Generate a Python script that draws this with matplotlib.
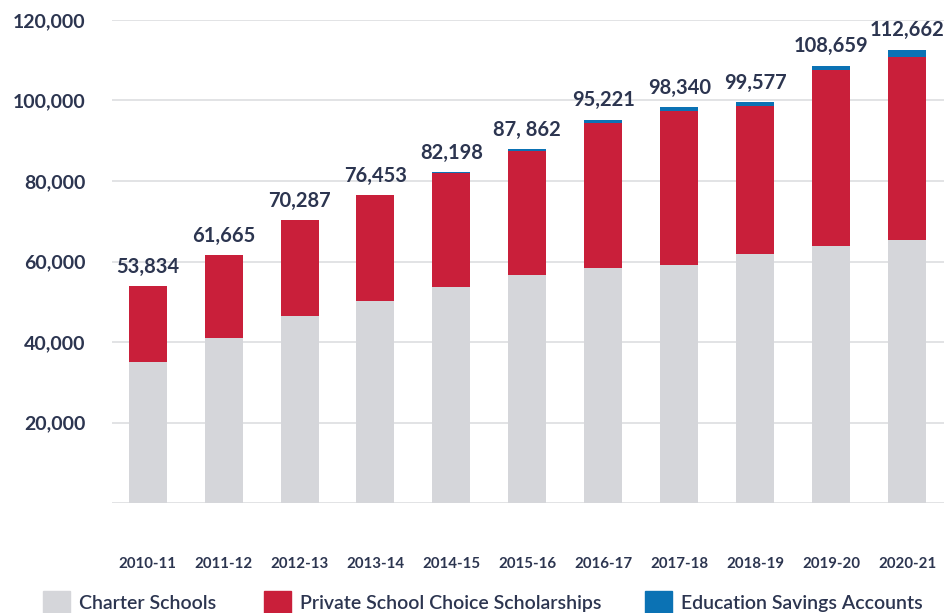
import matplotlib.pyplot as plt
from matplotlib.patches import Patch
from matplotlib.ticker import FuncFormatter

# school years on the x axis
years = ['2010-11', '2011-12', '2012-13', '2013-14', '2014-15', '2015-16',
         '2016-17', '2017-18', '2018-19', '2019-20', '2020-21']

# enrollment by program
charter = [35100, 41070, 46540, 50190, 53740, 56720, 58300, 59130, 61940, 63850, 65340]
esa = [0, 0, 0, 0, 300, 500, 800, 900, 900, 1100, 1850]
totals = [53834, 61665, 70287, 76453, 82198, 87862, 95221, 98340, 99577, 108659, 112662]
total_labels = ['53,834', '61,665', '70,287', '76,453', '82,198', '87, 862',
                '95,221', '98,340', '99,577', '108,659', '112,662']
private = [t - c - e for t, c, e in zip(totals, charter, esa)]

legend_names = ['Charter Schools', 'Private School Choice Scholarships',
                'Education Savings Accounts']

GRAY = '#d5d6da'
RED = '#c91f3a'
BLUE = '#0b72b4'
NAVY = '#2c3550'

plt.rcParams['font.family'] = ['Lato', 'DejaVu Sans']

fig = plt.figure(figsize=(9.45, 6.13), dpi=100)
ax = fig.add_axes([0.1185, 0.1794, 0.8815, 0.788])

x = list(range(len(years)))
w = 0.5
ax.bar(x, charter, w, color=GRAY, zorder=2)
ax.bar(x, private, w, bottom=charter, color=RED, zorder=2)
tops = [c + p for c, p in zip(charter, private)]
ax.bar(x, esa, w, bottom=tops, color=BLUE, zorder=2)

for xi, t, lab in zip(x, totals, total_labels):
    ax.text(xi, t + 3300, lab, ha='center', va='baseline', fontsize=14.5,
            fontweight='bold', color=NAVY)

ax.set_ylim(0, 120000)
ax.set_xlim(-0.47, 10.5)
ax.set_yticks(range(20000, 120001, 20000))
ax.yaxis.set_major_formatter(FuncFormatter(lambda v, p: f'{int(v):,}'))
ax.grid(axis='y', color='#dfe0e3', lw=1.3, zorder=0)
ax.axhline(0, color='#dfe0e3', lw=1.3, zorder=1)
for s in ax.spines.values():
    s.set_visible(False)
ax.tick_params(axis='both', length=0)
ax.tick_params(axis='y', pad=19, labelsize=14, labelcolor=NAVY)
for t in ax.get_yticklabels():
    t.set_fontweight('bold')
ax.set_xticks(x)
ax.set_xticklabels(years, fontsize=10.8, fontweight='bold', color=NAVY)
ax.tick_params(axis='x', pad=39)

# legend entries placed one by one, like the original layout
colors = [GRAY, RED, BLUE]
anchors = [43, 264, 645]
for name, c, px in zip(legend_names, colors, anchors):
    leg = fig.legend(handles=[Patch(color=c, label=name)], loc='center left',
                     bbox_to_anchor=(px / 945, 0.0163), frameon=False,
                     fontsize=14, handlelength=1.4, handleheight=1.55,
                     handletextpad=0.45, borderpad=0, borderaxespad=0,
                     labelcolor=NAVY, prop={'weight': 'semibold', 'size': 14})

fig.savefig('out.png', dpi=100)
